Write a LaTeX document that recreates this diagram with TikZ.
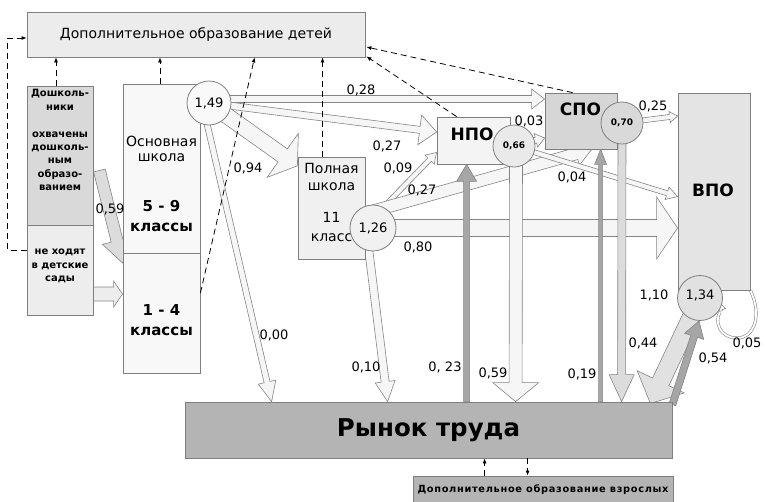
\documentclass[tikz,border=0pt]{standalone}
\usepackage{fontspec}
\setmainfont{DejaVu Sans}
\newfontfamily\spacedfont[LetterSpace=7]{DejaVu Sans}
\usetikzlibrary{calc,arrows.meta}
\pgfdeclarelayer{bg}
\pgfsetlayers{bg,main}
\definecolor{bord}{HTML}{7F7F7F}
\definecolor{agray}{HTML}{858585}
\definecolor{afill}{HTML}{F6F6F6}
\definecolor{dfill}{HTML}{A6A6A6}
\definecolor{topfill}{HTML}{ECECEC}
\definecolor{pre1fill}{HTML}{D9D9D9}
\definecolor{pre2fill}{HTML}{EDEDED}
\definecolor{schfill}{HTML}{F8F8F8}
\definecolor{polfill}{HTML}{F0F0F0}
\definecolor{npofill}{HTML}{F4F4F4}
\definecolor{spofill}{HTML}{D6D6D6}
\definecolor{vpofill}{HTML}{E4E4E4}
\definecolor{rynfill}{HTML}{B4B4B4}
\definecolor{cAfill}{HTML}{F9F9F9}
\definecolor{cBfill}{HTML}{F1F1F1}
\definecolor{cCfill}{HTML}{EAEAEA}
\definecolor{cDfill}{HTML}{D9D9D9}
\definecolor{cEfill}{HTML}{E1E1E1}
\definecolor{lgfill}{HTML}{DCDCDC}
\newcommand\fatarrow[6][]{%
  \path[fat,#1] let \p1=#2, \p2=#3,
    \n1={atan2(\y2-\y1,\x2-\x1)}, \n2={veclen(\x2-\x1,\y2-\y1)} in
    [shift={(\p1)},rotate=\n1]
    (0pt,#4pt) -- ({\n2-#6pt},#4pt) -- ({\n2-#6pt},#5pt) -- (\n2,0pt)
    -- ({\n2-#6pt},-#5pt) -- ({\n2-#6pt},-#4pt) -- (0pt,-#4pt) -- cycle;}
\begin{document}
\begin{tikzpicture}[x=1pt,y=-1pt,
  box/.style={draw=bord, line width=0.8pt, inner sep=0pt, anchor=center},
  circ/.style={circle, draw=bord, line width=0.8pt, inner sep=0pt},
  dsh/.style={dash pattern=on 6pt off 4pt, line width=0.8pt, -{Latex[length=5pt,width=4pt]}},
  fat/.style={draw=agray, line width=0.6pt, fill=afill, line join=miter},
  lbl/.style={font=\fontsize{13}{15}\selectfont, inner sep=0pt},
  pretext/.style={font=\bfseries\fontsize{10}{13.3}\selectfont, align=center, inner sep=0pt},
  schtext/.style={font=\fontsize{14}{15.5}\selectfont, align=center, inner sep=0pt},
  schbold/.style={font=\bfseries\fontsize{15}{20}\selectfont, align=center, inner sep=0pt},
  bigbold/.style={font=\bfseries\fontsize{17}{20}\selectfont, inner sep=0pt}]
\useasboundingbox (0,0) rectangle (765,501);

% boxes
\node[box, fill=topfill, minimum width=338pt, minimum height=45pt, font=\fontsize{14}{16}\selectfont] (top) at (196,34.5) {Дополнительное образование детей};
\node[box, fill=pre1fill, minimum width=66pt, minimum height=139pt] (pre1) at (60,155.5) {};
\node[box, fill=pre2fill, minimum width=66pt, minimum height=90pt] (pre2) at (60,270) {};
\node[pretext] (pre1a) at (60,100) {Дошколь-\\ники};
\node[pretext] (pre1b) at (60,161) {охвачены\\дошколь-\\ным\\образо-\\ванием};
\node[pretext] (pre2a) at (60,266) {не ходят\\в детские\\сады};
\node[box, fill=schfill, minimum width=77pt, minimum height=169pt] (osn) at (161.5,168.5) {};
\node[box, fill=schfill, minimum width=77pt, minimum height=120pt] (nach) at (161.5,313) {};
\node[schtext] (osnt) at (161.5,149) {Основная\\школа};
\node[schbold] (osnb) at (161.5,216) {5 - 9\\классы};
\node[schbold] (nachb) at (161.5,320) {1 - 4\\классы};
\node[box, fill=polfill, minimum width=67pt, minimum height=102pt] (poln) at (331.5,208) {};
\node[schtext, font=\fontsize{14}{17}\selectfont] (polt) at (331.5,177) {Полная\\школа};
\node[schtext, font=\fontsize{14}{19}\selectfont] (polb) at (331.5,227) {11\\класс};
\node[box, fill=npofill, minimum width=73pt, minimum height=47pt] (npo) at (473.5,140.5) {};
\node[bigbold] (npot) at (472,134) {НПО};
\node[box, fill=spofill, minimum width=72pt, minimum height=56pt] (spo) at (581,121) {};
\node[bigbold] (spot) at (580.5,109) {СПО};
\node[box, fill=vpofill, minimum width=72pt, minimum height=197pt] (vpo) at (714,191.5) {};
\node[bigbold] (vpot) at (713,190) {ВПО};
\node[box, fill=rynfill, minimum width=487pt, minimum height=56pt, font=\bfseries\fontsize{24.5}{28}\selectfont] (rynok) at (428.5,430) {Рынок труда};
\node[box, fill=rynfill, minimum width=260pt, minimum height=28pt, font=\spacedfont\bfseries\fontsize{9.8}{11}\selectfont] (dovz) at (543,490) {Дополнительное образование взрослых};

% circles
\node[circ, fill=cAfill, minimum size=44pt, font=\fontsize{13}{15}\selectfont] (c149) at (209,103) {1,49};
\node[circ, fill=cBfill, minimum size=46pt, font=\fontsize{13}{15}\selectfont] (c126) at (373,228) {1,26};
\node[circ, fill=cCfill, minimum size=42pt, font=\bfseries\fontsize{9}{11}\selectfont] (c066) at (514,146) {0,66};
\node[circ, fill=cDfill, minimum size=42pt, font=\bfseries\fontsize{9}{11}\selectfont] (c070) at (622,123) {0,70};
\node[circ, fill=cEfill, minimum size=45pt, font=\fontsize{13}{15}\selectfont, text depth=6pt] (c134) at (700,298) {1,34};

% flows
\begin{pgfonlayer}{bg}
\fatarrow{(c126.center)}{($(vpo.west)+(0,36.5)$)}{8.5}{31}{21}
\fatarrow{($(c149.center)+(0,-4)$)}{($(spo.west)+(0,-22)$)}{3.5}{10}{13}
\fatarrow{(c149.center)}{($(npo.west)+(0,-8.5)$)}{3.5}{15}{17}
\fatarrow{(c149.center)}{($(poln.west)+(0,-42)$)}{8}{27}{18}
\fatarrow{($(c149.center)+(-4,12)$)}{($(rynok.north west)+(87,0)$)}{3}{9}{20}
\fatarrow[fill=lgfill]{($(pre1.east)+(6,15)$)}{($(nach.west)+(0,-50)$)}{6}{15}{23}
\fatarrow[fill=pre2fill]{($(pre2.east)+(-5,24)$)}{($(nach.west)+(0,-19)$)}{7}{13}{9}
\fatarrow{($(c126.center)+(0,-10)$)}{($(npo.south west)+(0,-12)$)}{2.5}{6.5}{10}
\fatarrow{($(c126.center)+(0,-17)$)}{($(spo.south west)+(47,0)$)}{6}{12}{16}
\fatarrow{(c066.center)}{($(spo.west)+(0,17)$)}{3}{7}{9}
\fatarrow{(c066.center)}{($(vpo.west)+(0,5)$)}{2.5}{6.5}{11}
\fatarrow{($(c126.center)+(-7,0)$)}{($(rynok.north west)+(203,0)$)}{4}{10}{20}
\fatarrow[fill=dfill]{($(rynok.north west)+(282,0)$)}{($(npo.south west)+(30,0)$)}{3}{10}{17}
\fatarrow{($(c066.center)+(2,0)$)}{($(rynok.north west)+(331,0)$)}{6.5}{23}{19}
\fatarrow[fill=dfill]{($(rynok.north west)+(416,0)$)}{($(spo.south west)+(56,0)$)}{2}{6}{15}
\fatarrow[fill=lgfill]{(c070.center)}{($(rynok.north west)+(437,0)$)}{4}{12.5}{27}
\fatarrow{(c070.center)}{($(vpo.west)+(0,-75.5)$)}{2.5}{5.5}{8}
\fatarrow[fill=cEfill]{($(c134.center)+(-3,7)$)}{($(rynok.north east)+(-22,2)$)}{9}{26}{24}
\fatarrow[fill=dfill]{($(rynok.north east)+(0,3)$)}{($(c134.center)+(-1,23)$)}{3.5}{10}{16}
\draw[draw=agray, double=white, double distance=1.8pt, line width=0.6pt]
  (vpo.south east) .. controls (762,314) and (755,338) .. (737,338)
  .. controls (720,338) and (714,322) .. (720,312);
\fatarrow[fill=white]{($(c134.center)+(21,13)$)}{($(c134.center)+(19,4)$)}{1.5}{5}{8}
\end{pgfonlayer}

% dashed links
\draw[dsh] ($(pre2.west)+(0,-20)$) -- ++(-19,0) |- ($(top.west)+(0,3.5)$);
\draw[dsh] ($(pre1.north)+(-4,0)$) -- ($(pre1.north |- top.south)+(-4,0)$);
\draw[dsh] ($(osn.north)+(-1.5,0)$) -- ($(osn.north |- top.south)+(-1.5,0)$);
\draw[dsh] ($(poln.north)+(-9,0)$) -- ($(poln.north |- top.south)+(-9,0)$);
\draw[dsh] ($(nach.east)+(0,-20)$) -- ($(top.south west)+(228,0)$);
\draw[dsh] ($(npo.north west)+(20,0)$) -- ($(top.south east)+(1,-1)$);
\draw[dsh] ($(spo.north west)+(28,0)$) -- ($(top.east)+(1,12.5)$);
\draw[dsh] ($(dovz.north west)+(72,0)$) -- ($(rynok.south west)+(300,0)$);
\draw[dsh] ($(rynok.south west)+(343,0)$) -- ($(dovz.north west)+(115,0)$);

% labels
\node[lbl] (l1) at (110,209) {0,59};
\node[lbl] (l2) at (361,90) {0,28};
\node[lbl] (l3) at (387,146) {0,27};
\node[lbl] (l4) at (248,168) {0,94};
\node[lbl] (l5) at (274,335) {0,00};
\node[lbl] (l6) at (398,168) {0,09};
\node[lbl] (l7) at (422,190) {0,27};
\node[lbl] (l8) at (529,121) {0,03};
\node[lbl] (l9) at (572,177) {0,04};
\node[lbl] (l10) at (418,247) {0,80};
\node[lbl] (l11) at (366,367) {0,10};
\node[lbl] (l12) at (445,367) {0, 23};
\node[lbl] (l13) at (493,373) {0,59};
\node[lbl] (l14) at (582,374) {0,19};
\node[lbl] (l15) at (653,106) {0,25};
\node[lbl] (l16) at (654,295) {1,10};
\node[lbl] (l17) at (643,343) {0,44};
\node[lbl] (l18) at (713,358) {0,54};
\node[lbl] (l19) at (747,343) {0,05};
\end{tikzpicture}
\end{document}
